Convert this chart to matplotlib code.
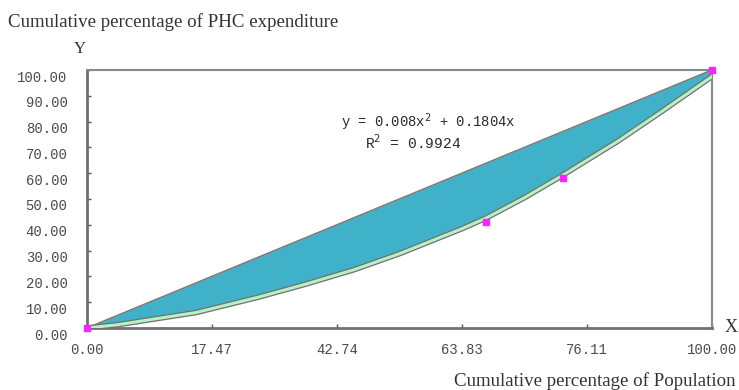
import numpy as np
import matplotlib.pyplot as plt
from matplotlib.transforms import ScaledTranslation

# tick labels along the population axis (placed at equal steps)
x_labels = ['0.00', '17.47', '42.74', '63.83', '76.11', '100.00']
y_ticks = [0, 10, 20, 30, 40, 50, 60, 70, 80, 90, 100]

# equality line
eq_x = [0, 100]
eq_y = [0, 100]

# concentration curve
curve_x = [0, 5, 10, 17.47, 27.5, 35, 42.74, 50, 60, 63.83, 70, 76.11, 85, 92, 100]
curve_y = [0, 1.3, 3.2, 6.0, 12.0, 17.0, 22.6, 28.8, 38.5, 42.6, 50.5, 59.2, 72.5, 84.0, 97.5]

# observed points
pt_x = [0, 63.83, 76.11, 100]
pt_y = [0, 41.0, 58.0, 100]

fit_text = 'y = 0.008x$^2$ + 0.1804x'
r2_text = 'R$^2$ = 0.9924'

plt.rcParams['font.family'] = ['Liberation Serif', 'DejaVu Serif']
mono = 'Liberation Mono'

fig = plt.figure(figsize=(7.39, 3.90), dpi=100)
ax = fig.add_axes([87/739, 62/390, 625/739, 258/390])

xs = np.linspace(0, 100, 400)
upper = np.interp(xs, eq_x, eq_y)
lower = np.interp(xs, curve_x, curve_y)
ax.fill_between(xs, lower, upper, color='#3fb1c9', lw=0, zorder=1)
ax.plot(eq_x, eq_y, color='#7a7a7a', lw=1.2, zorder=2)
ax.plot(curve_x, curve_y, color='#707070', lw=4.0, zorder=2)
ax.plot(curve_x, curve_y, color='#b5f0c6', lw=2.2, zorder=3)
ax.scatter(pt_x, pt_y, marker='s', s=22, color='#ff22ff', zorder=5, clip_on=False)

ax.set_xlim(0, 100)
ax.set_ylim(0, 100)
ax.set_xticks(np.linspace(0, 100, len(x_labels)))
ax.set_xticklabels(x_labels, fontfamily=mono)
ax.set_yticks(y_ticks)
ax.set_yticklabels(['%.2f' % v for v in y_ticks], fontfamily=mono)
ax.tick_params(direction='in', length=3, width=1, colors='#555555',
               labelcolor='#4a4a4a', labelsize=10)
ax.tick_params(axis='y', pad=14)
ax.tick_params(axis='x', pad=11)
shift = ScaledTranslation(0, -6/100, fig.dpi_scale_trans)
for lab in ax.get_yticklabels():
    lab.set_transform(lab.get_transform() + shift)
for side in ['top', 'right']:
    ax.spines[side].set_color('#8a8a8a')
    ax.spines[side].set_linewidth(1.5)
for side in ['left', 'bottom']:
    ax.spines[side].set_color('#707070')
    ax.spines[side].set_linewidth(2.0)

ax.text(0.5456, 0.798, fit_text, transform=ax.transAxes, ha='center', va='center',
        fontsize=10, fontfamily=mono, color='#2a2a2a')
ax.text(0.5216, 0.717, r2_text, transform=ax.transAxes, ha='center', va='center',
        fontsize=10.5, fontfamily=mono, color='#2a2a2a')

fig.text(8/739, 1 - 22/390, 'Cumulative percentage of PHC expenditure',
         ha='left', va='center', fontsize=13.6, color='#333333')
fig.text(80/739, 1 - 49/390, 'Y', ha='center', va='center', fontsize=12, color='#333333')
fig.text(731/739, 1 - 327/390, 'X', ha='center', va='center', fontsize=13, color='#333333')
fig.text(736/739, 1 - 381/390, 'Cumulative percentage of Population',
         ha='right', va='center', fontsize=13.6, color='#333333')

fig.savefig('out.png', dpi=100)
